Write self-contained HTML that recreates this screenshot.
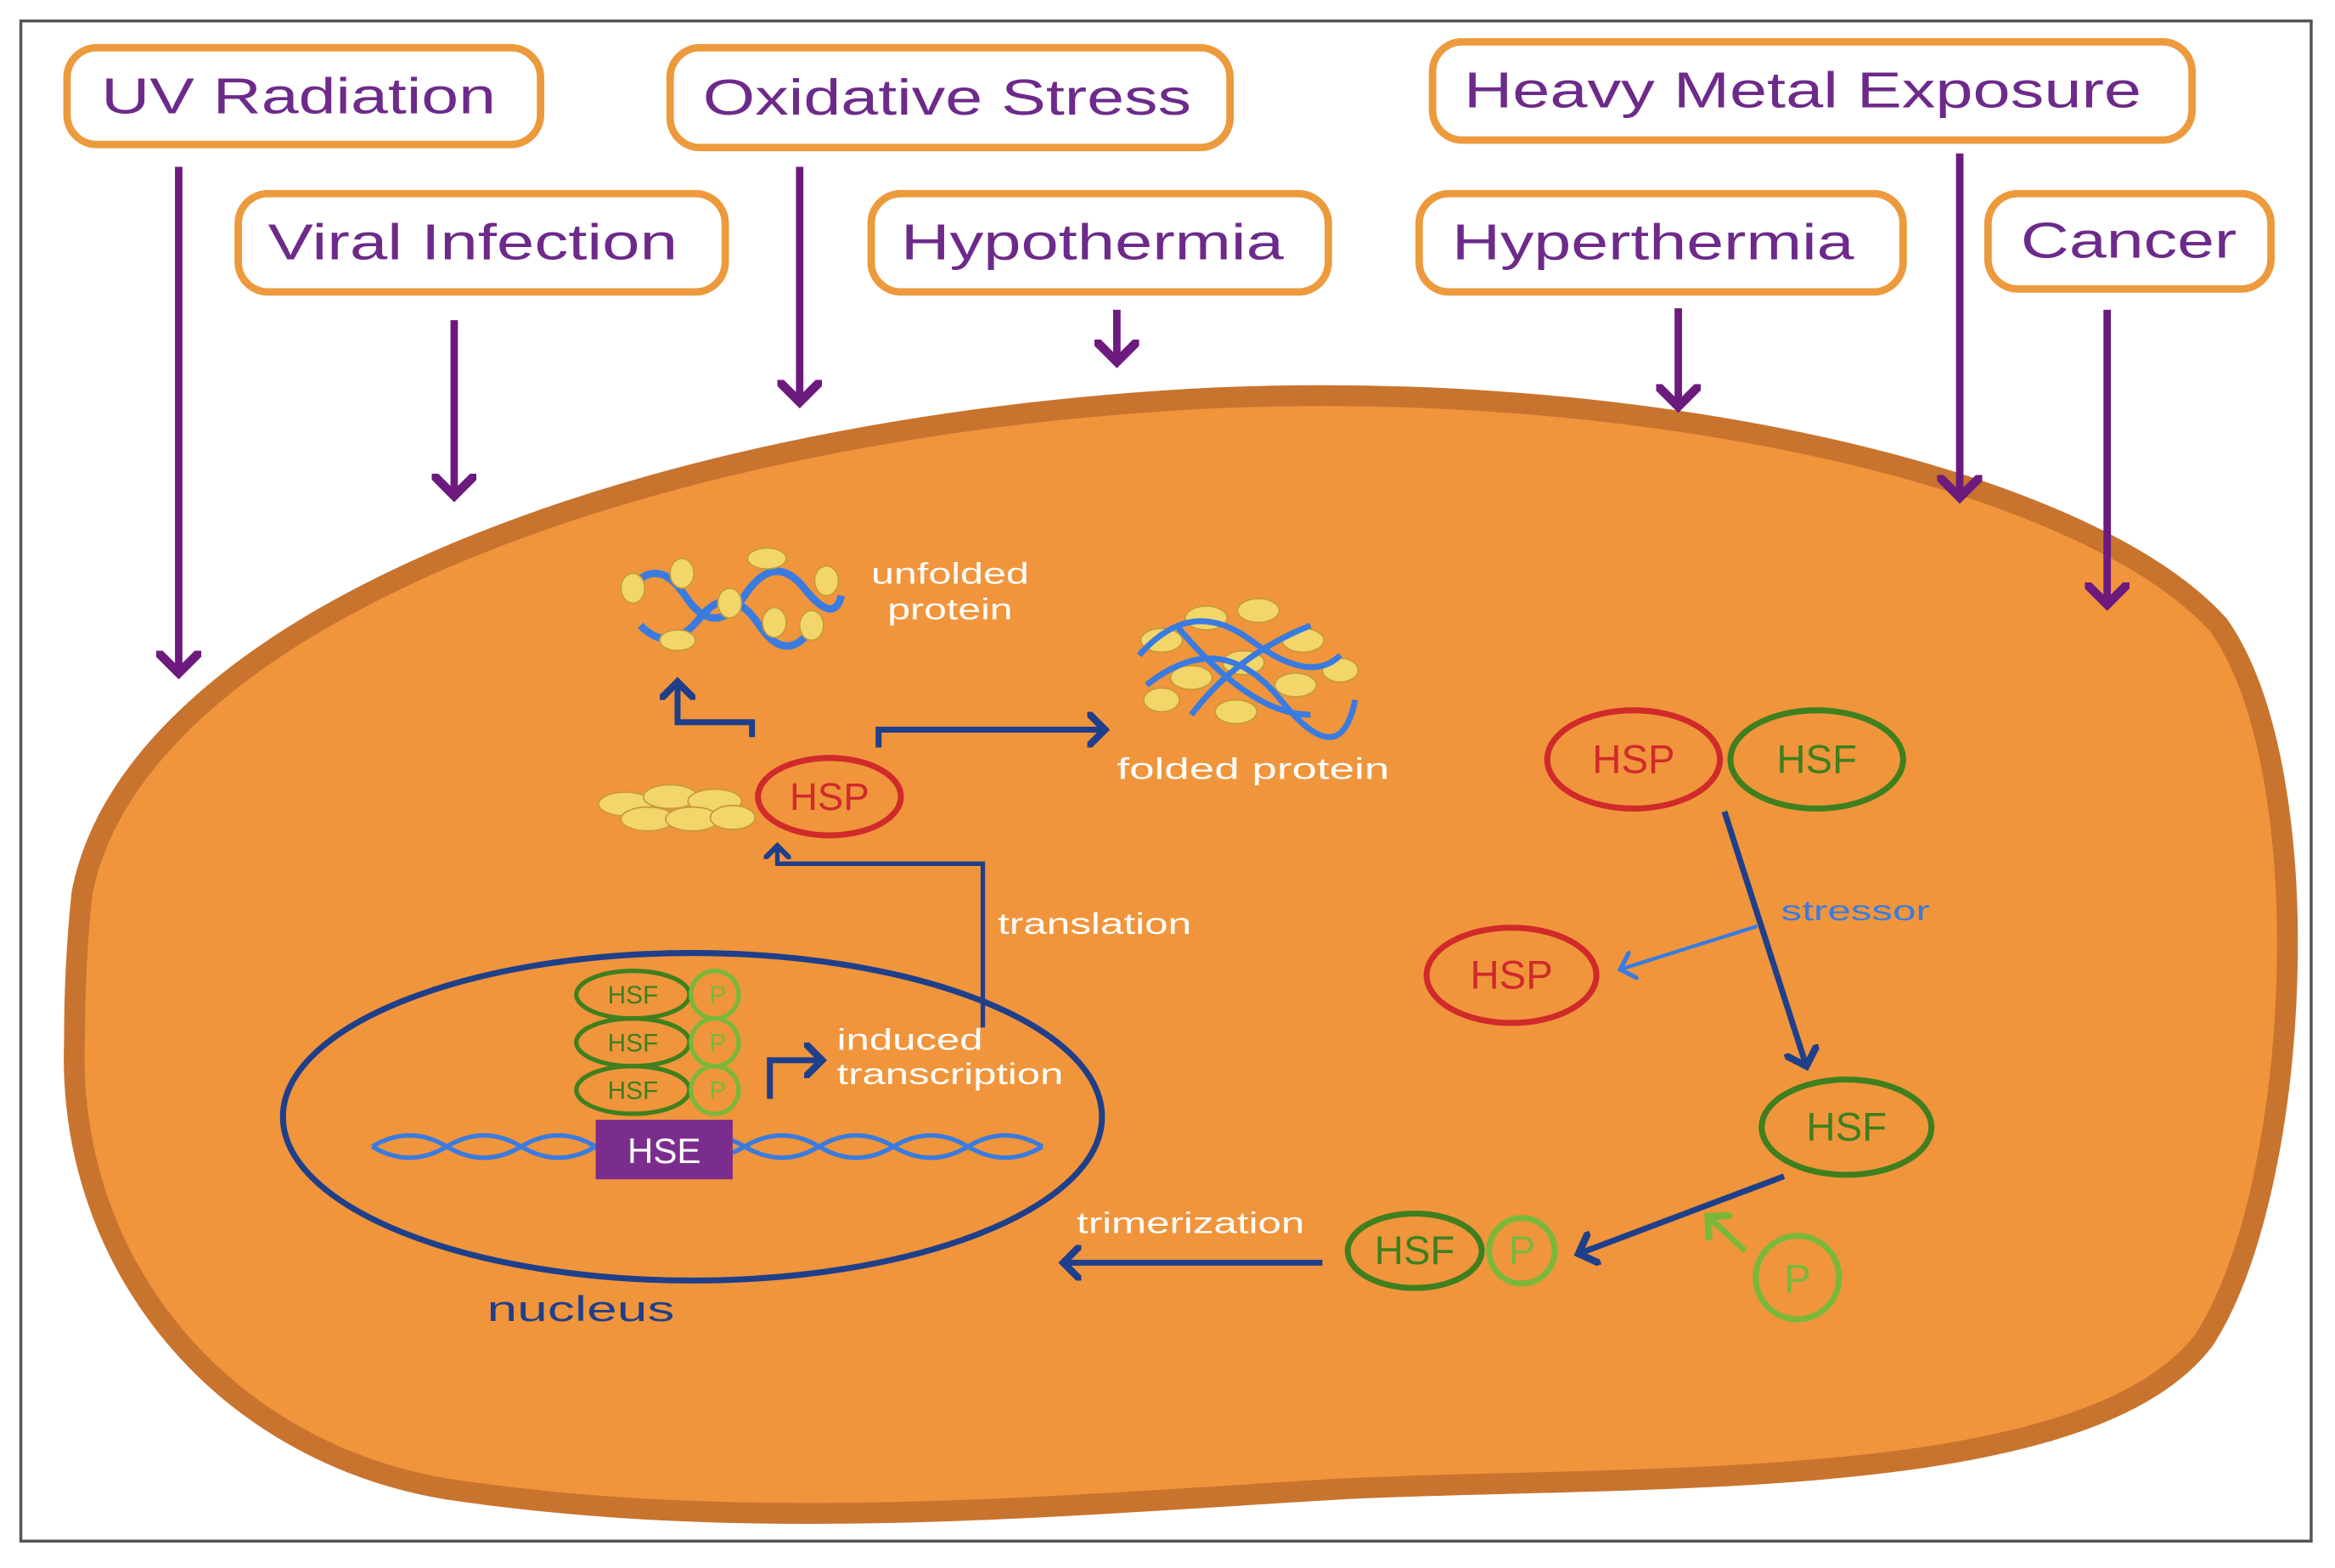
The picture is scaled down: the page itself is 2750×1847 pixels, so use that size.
<!DOCTYPE html>
<html><head><meta charset="utf-8"><style>
html,body{margin:0;padding:0;background:#fff;}
svg{display:block;}
text{font-family:"Liberation Sans",sans-serif;}
</style></head><body>
<svg width="2750" height="1847" viewBox="0 0 1568 1053" xmlns="http://www.w3.org/2000/svg">
<defs>
<marker id="pa" markerWidth="6" markerHeight="6" refX="3" refY="3" orient="auto" markerUnits="strokeWidth"><path d="M0,0 L3,3 L0,6" fill="none" stroke="#6d1a7e" stroke-width="1.2"/></marker>
<marker id="na" markerWidth="6" markerHeight="6" refX="3" refY="3" orient="auto" markerUnits="strokeWidth"><path d="M0,0 L3,3 L0,6" fill="none" stroke="#1f3f8a" stroke-width="1.2"/></marker>
<marker id="ba" markerWidth="8" markerHeight="8" refX="4" refY="4" orient="auto" markerUnits="strokeWidth"><path d="M0,0 L4,4 L0,8" fill="none" stroke="#3a7be0" stroke-width="1.2"/></marker>
<marker id="ga" markerWidth="6" markerHeight="6" refX="3" refY="3" orient="auto" markerUnits="strokeWidth"><path d="M0,0 L3,3 L0,6" fill="none" stroke="#7ab83a" stroke-width="1.2"/></marker>
</defs>
<rect x="0" y="0" width="1568" height="1053" fill="#fff"/>
<rect x="14" y="14" width="1538" height="1021" fill="none" stroke="#555" stroke-width="2"/>
<path d="M55,600 C90,420 420,290 800,268 C1100,252 1400,320 1490,420 C1560,520 1545,800 1480,900 C1400,1005 1100,990 900,1000 C700,1012 500,1030 300,1000 C150,975 45,850 50,700 C50,660 52,630 55,600 Z" fill="#f0953c" stroke="#c8742f" stroke-width="14"/>
<g fill="#fff" stroke="#ec9a3c" stroke-width="5">
<rect x="45" y="32" width="318" height="65" rx="20"/>
<rect x="450" y="32" width="376" height="67" rx="20"/>
<rect x="962" y="28" width="510" height="66" rx="20"/>
<rect x="160" y="130" width="327" height="66" rx="20"/>
<rect x="585" y="130" width="307" height="66" rx="20"/>
<rect x="953" y="130" width="325" height="66" rx="20"/>
<rect x="1335" y="130" width="190" height="64" rx="20"/>
</g>
<g fill="#6d2a8a" font-size="34" lengthAdjust="spacingAndGlyphs">
<text x="68" y="76" textLength="265" lengthAdjust="spacingAndGlyphs">UV Radiation</text>
<text x="472" y="77" textLength="328" lengthAdjust="spacingAndGlyphs">Oxidative Stress</text>
<text x="983" y="72" textLength="455" lengthAdjust="spacingAndGlyphs">Heavy Metal Exposure</text>
<text x="180" y="174" textLength="275" lengthAdjust="spacingAndGlyphs">Viral Infection</text>
<text x="605" y="174" textLength="257" lengthAdjust="spacingAndGlyphs">Hypothermia</text>
<text x="975" y="174" textLength="270" lengthAdjust="spacingAndGlyphs">Hyperthermia</text>
<text x="1357" y="173" textLength="145" lengthAdjust="spacingAndGlyphs">Cancer</text>
</g>
<g stroke="#6d1a7e" stroke-width="5" fill="none" marker-end="url(#pa)">
<line x1="120" y1="112" x2="120" y2="452"/>
<line x1="305" y1="215" x2="305" y2="333"/>
<line x1="537" y1="112" x2="537" y2="270"/>
<line x1="750" y1="208" x2="750" y2="243"/>
<line x1="1127" y1="207" x2="1127" y2="273"/>
<line x1="1316" y1="103" x2="1316" y2="334"/>
<line x1="1415" y1="208" x2="1415" y2="406"/>
</g>
<ellipse cx="465" cy="750" rx="275" ry="110" fill="none" stroke="#1f3f8a" stroke-width="4"/>
<text x="327" y="887" font-size="24" fill="#1f3f8a" textLength="126" lengthAdjust="spacingAndGlyphs">nucleus</text>
<path d="M250,770 Q275,755 300,770 T350,770 T400,770 T450,770 T500,770 T550,770 T600,770 T650,770 T700,770" fill="none" stroke="#3a7be0" stroke-width="3"/>
<path d="M250,770 Q275,785 300,770 T350,770 T400,770 T450,770 T500,770 T550,770 T600,770 T650,770 T700,770" fill="none" stroke="#3a7be0" stroke-width="3"/>
<rect x="400" y="752" width="92" height="40" fill="#7b2d8e"/>
<text x="446" y="781" font-size="24" fill="#fff" text-anchor="middle">HSE</text>
<g font-size="17" text-anchor="middle">
<g stroke-width="3"><ellipse cx="425" cy="668" rx="38" ry="16" fill="#f0953c" stroke="#3f7f1e"/><ellipse cx="425" cy="700" rx="38" ry="16" fill="#f0953c" stroke="#3f7f1e"/><ellipse cx="425" cy="732" rx="38" ry="16" fill="#f0953c" stroke="#3f7f1e"/>
<circle cx="480" cy="668" r="16" fill="#f0953c" stroke="#7ab83a"/><circle cx="480" cy="700" r="16" fill="#f0953c" stroke="#7ab83a"/><circle cx="480" cy="732" r="16" fill="#f0953c" stroke="#7ab83a"/></g>
<g fill="#3f7f1e"><text x="425" y="674">HSF</text><text x="425" y="706">HSF</text><text x="425" y="738">HSF</text></g>
<g fill="#7ab83a"><text x="482" y="674">P</text><text x="482" y="706">P</text><text x="482" y="738">P</text></g>
</g>
<path d="M517,738 V712 H552" fill="none" stroke="#1f3f8a" stroke-width="4" marker-end="url(#na)"/>
<g fill="#fff" font-size="20"><text x="562" y="705" textLength="98" lengthAdjust="spacingAndGlyphs">induced</text><text x="562" y="728" textLength="152" lengthAdjust="spacingAndGlyphs">transcription</text>
<text x="670" y="627" textLength="130" lengthAdjust="spacingAndGlyphs">translation</text><text x="723" y="828" textLength="153" lengthAdjust="spacingAndGlyphs">trimerization</text>
<text x="750" y="523" textLength="183" lengthAdjust="spacingAndGlyphs">folded protein</text>
<text x="585" y="392" textLength="106" lengthAdjust="spacingAndGlyphs">unfolded</text><text x="596" y="416" textLength="84" lengthAdjust="spacingAndGlyphs">protein</text></g>
<path d="M660,690 V580 H522 V568" fill="none" stroke="#1f3f8a" stroke-width="3" marker-end="url(#na)"/>
<g fill="#f3d66a" stroke="#c79a3a" stroke-width="1"><ellipse cx="420" cy="540" rx="18" ry="8"/><ellipse cx="450" cy="535" rx="18" ry="8"/><ellipse cx="480" cy="538" rx="18" ry="8"/><ellipse cx="435" cy="550" rx="18" ry="8"/><ellipse cx="465" cy="550" rx="18" ry="8"/><ellipse cx="492" cy="549" rx="15" ry="8"/></g>
<ellipse cx="557" cy="535" rx="48" ry="26" fill="#f0953c" stroke="#d02a2a" stroke-width="4"/>
<text x="557" y="544" font-size="26" fill="#d02a2a" text-anchor="middle">HSP</text>
<path d="M505,495 V485 H455 V458" fill="none" stroke="#1f3f8a" stroke-width="4" marker-end="url(#na)"/>
<path d="M590,502 V490 H742" fill="none" stroke="#1f3f8a" stroke-width="4" marker-end="url(#na)"/>
<path d="M420,400 Q440,370 460,400 T500,400 T540,395 T565,400" fill="none" stroke="#3a7be0" stroke-width="5"/>
<path d="M430,420 Q450,440 470,415 T510,420 T550,415" fill="none" stroke="#3a7be0" stroke-width="5"/>
<g fill="#f3d66a" stroke="#c79a3a"><ellipse cx="425" cy="395" rx="8" ry="10"/><ellipse cx="458" cy="385" rx="8" ry="10"/><ellipse cx="490" cy="405" rx="8" ry="10"/><ellipse cx="515" cy="375" rx="13" ry="7"/><ellipse cx="545" cy="420" rx="8" ry="10"/><ellipse cx="455" cy="430" rx="12" ry="7"/><ellipse cx="520" cy="418" rx="8" ry="10"/><ellipse cx="555" cy="390" rx="8" ry="10"/></g>
<g fill="#f3d66a" stroke="#c79a3a"><ellipse cx="780" cy="430" rx="14" ry="8"/><ellipse cx="810" cy="415" rx="14" ry="8"/><ellipse cx="845" cy="410" rx="14" ry="8"/><ellipse cx="875" cy="430" rx="14" ry="8"/><ellipse cx="800" cy="455" rx="14" ry="8"/><ellipse cx="835" cy="445" rx="14" ry="8"/><ellipse cx="870" cy="460" rx="14" ry="8"/><ellipse cx="900" cy="450" rx="12" ry="8"/><ellipse cx="780" cy="470" rx="12" ry="8"/><ellipse cx="830" cy="478" rx="14" ry="8"/></g>
<path d="M765,440 Q800,400 840,430 T900,440 M770,460 Q820,420 860,470 T910,470 M800,480 Q830,440 880,420 M790,420 Q840,480 880,480" fill="none" stroke="#3a7be0" stroke-width="4"/>
<g stroke-width="4"><ellipse cx="1097" cy="510" rx="58" ry="33" fill="#f0953c" stroke="#d02a2a"/><ellipse cx="1220" cy="510" rx="58" ry="33" fill="#f0953c" stroke="#3f7f1e"/>
<ellipse cx="1015" cy="655" rx="57" ry="32" fill="#f0953c" stroke="#d02a2a"/><ellipse cx="1240" cy="757" rx="57" ry="32" fill="#f0953c" stroke="#3f7f1e"/>
<ellipse cx="950" cy="840" rx="45" ry="25" fill="#f0953c" stroke="#3f7f1e"/><circle cx="1022" cy="840" r="22" fill="#f0953c" stroke="#7ab83a"/><circle cx="1207" cy="858" r="28" fill="#f0953c" stroke="#7ab83a"/></g>
<g font-size="27" text-anchor="middle"><text x="1097" y="519" fill="#d02a2a">HSP</text><text x="1220" y="519" fill="#3f7f1e">HSF</text><text x="1015" y="664" fill="#d02a2a">HSP</text><text x="1240" y="766" fill="#3f7f1e">HSF</text><text x="950" y="849" fill="#3f7f1e">HSF</text><text x="1022" y="849" fill="#7ab83a">P</text><text x="1207" y="868" fill="#7ab83a">P</text></g>
<line x1="1158" y1="545" x2="1213" y2="716" stroke="#1f3f8a" stroke-width="4" marker-end="url(#na)"/>
<line x1="1180" y1="622" x2="1088" y2="651" stroke="#3a7be0" stroke-width="2.5" marker-end="url(#ba)"/>
<text x="1196" y="618" font-size="19" fill="#3a7be0" textLength="100" lengthAdjust="spacingAndGlyphs">stressor</text>
<line x1="1198" y1="790" x2="1060" y2="842" stroke="#1f3f8a" stroke-width="4" marker-end="url(#na)"/>
<line x1="1172" y1="840" x2="1147" y2="817" stroke="#7ab83a" stroke-width="4" marker-end="url(#ga)"/>
<line x1="888" y1="848" x2="714" y2="848" stroke="#1f3f8a" stroke-width="4" marker-end="url(#na)"/>
</svg>
</body></html>
